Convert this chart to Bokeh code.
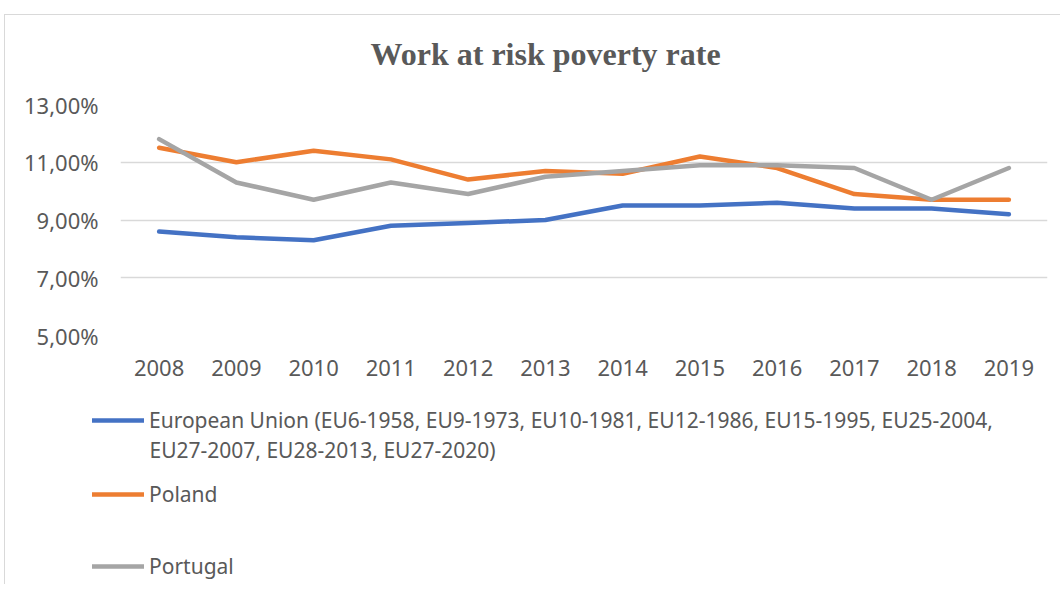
from bokeh.plotting import figure
from bokeh.models import Range1d, FactorRange, FixedTicker, CustomJSTickFormatter, Legend, LegendItem, Label
from bokeh.core.properties import value
from bokeh.embed import file_html
from bokeh.resources import INLINE

years = ["2008", "2009", "2010", "2011", "2012", "2013", "2014", "2015", "2016", "2017", "2018", "2019"]
eu = [8.6, 8.4, 8.3, 8.8, 8.9, 9.0, 9.5, 9.5, 9.6, 9.4, 9.4, 9.2]
poland = [11.5, 11.0, 11.4, 11.1, 10.4, 10.7, 10.6, 11.2, 10.8, 9.9, 9.7, 9.7]
portugal = [11.8, 10.3, 9.7, 10.3, 9.9, 10.5, 10.7, 10.9, 10.9, 10.8, 9.7, 10.8]
y_ticks = [5, 7, 9, 11, 13]
eu_label_1 = "European Union (EU6-1958, EU9-1973, EU10-1981, EU12-1986, EU15-1995, EU25-2004,"
eu_label_2 = "EU27-2007, EU28-2013, EU27-2020)"
series_labels = [eu_label_1, "Poland", "Portugal"]
series_values = [eu, poland, portugal]
colors = ["#4472C4", "#ED7D31", "#A5A5A5"]

TXT = "#595959"
FONT = "Noto Sans"
x_range = FactorRange(*years)

# ---- main chart ----
p = figure(width=1056, height=370, x_range=x_range, y_range=Range1d(5, 13),
           output_backend="svg", toolbar_location=None,
           min_border_left=115, min_border_right=14, min_border_top=89, min_border_bottom=50)
p.styles = {"border-left": "1px solid #d9d9d9", "border-top": "1px solid #d9d9d9",
            "position": "relative", "top": "14px", "left": "4px"}
p.outline_line_color = None
p.background_fill_color = "white"
p.border_fill_color = "white"

p.title.text = "Work at risk poverty rate"
p.title.text_font = "Liberation Serif"
p.title.text_font_style = "bold"
p.title.text_font_size = "32px"
p.title.text_color = TXT
p.title.align = "left"
p.title.vertical_align = "top"
p.title.offset = 250
p.title.standoff = 10
p.title.padding = (0, 0, 0, 26)

p.xgrid.grid_line_color = None
p.ygrid.grid_line_color = "#d9d9d9"
p.ygrid.grid_line_width = 1.5

p.yaxis.ticker = FixedTicker(ticks=y_ticks)
p.yaxis.formatter = CustomJSTickFormatter(code="return tick.toFixed(2).replace('.', ',') + '%';")
for ax in (p.xaxis, p.yaxis):
    ax.axis_line_color = None
    ax.major_tick_line_color = None
    ax.minor_tick_line_color = None
    ax.major_label_text_font = FONT
    ax.major_label_text_font_size = "22px"
    ax.major_label_text_color = TXT
p.yaxis.major_label_standoff = 16
p.xaxis.major_label_standoff = 18

for vals, c in zip(series_values, colors):
    p.line(years, vals, line_color=c, line_width=4.5, line_join="round", line_cap="round")

# ---- legend panel (same series; lines lie outside its y range, only the legend shows) ----
q = figure(width=1056, height=200, x_range=x_range, y_range=Range1d(0, 1),
           output_backend="svg", toolbar_location=None,
           x_axis_location=None, y_axis_location=None,
           min_border_left=0, min_border_right=0, min_border_top=0, min_border_bottom=0)
q.styles = {"border-left": "1px solid #d9d9d9", "position": "relative", "top": "14px", "left": "4px"}
q.outline_line_color = None
q.grid.visible = False
q.background_fill_color = "white"
q.border_fill_color = "white"

locs = [(87, 150), (87, 76), (87, 4)]
for lab, vals, c, loc in zip(series_labels, series_values, colors, locs):
    r = q.line(years, vals, line_color=c, line_width=4.5, line_join="round", line_cap="round")
    lg = Legend(items=[LegendItem(label=value(lab), renderers=[r])], location=loc,
                padding=0, margin=0, spacing=0, border_line_color=None,
                background_fill_alpha=0, glyph_width=52, glyph_height=20, label_standoff=5,
                label_text_font=FONT, label_text_font_size="21px", label_text_color=TXT,
                label_text_line_height=1.4)
    q.add_layout(lg)

q.add_layout(Label(x=144, y=135, x_units="screen", y_units="screen", text=eu_label_2,
                   text_font=FONT, text_font_size="21px", text_color=TXT,
                   text_baseline="middle", text_align="left"))

open("out.html", "w").write(file_html([p, q], INLINE))
